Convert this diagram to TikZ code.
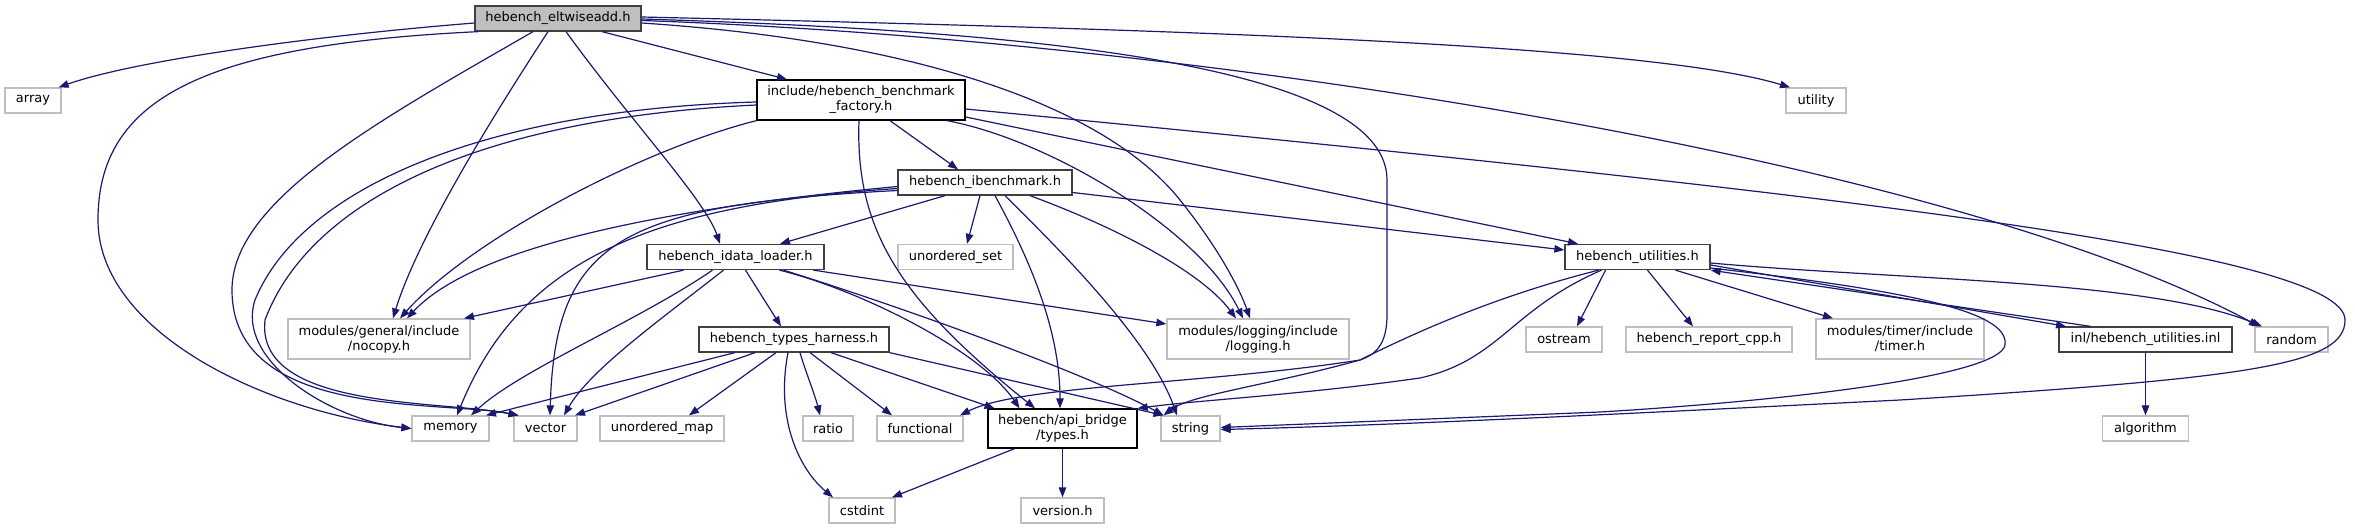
\documentclass[tikz,border=0pt]{standalone}
\usepackage{fontspec}
\setmainfont{DejaVu Sans}
\usetikzlibrary{arrows.meta}
\definecolor{edgeblue}{HTML}{191970}
\definecolor{boxgray}{HTML}{BFBFBF}
\definecolor{boxdark}{HTML}{404040}
\tikzset{
  hfile/.style={draw=boxdark, line width=1.3pt, fill=white, inner sep=0pt,
    minimum height=25pt, align=center, font=\fontsize{13}{15}\selectfont},
  sysfile/.style={hfile, draw=boxgray},
  incl/.style={draw=edgeblue, line width=1.2pt, -{Triangle[length=10pt,width=7.5pt]}},
}

\begin{document}
\begin{tikzpicture}[x=1pt, y=-1pt]
\useasboundingbox (0,0) rectangle (2355,529);

% files of the project
\node[hfile, fill=boxgray, minimum width=166pt] (root) at (558,18.5) {hebench\_eltwiseadd.h};
\node[hfile, draw=black, minimum width=208pt, minimum height=40pt] (factory) at (861,100) {include/hebench\_benchmark\\\_factory.h};
\node[hfile, minimum width=174pt] (ibench) at (985,182.5) {hebench\_ibenchmark.h};
\node[hfile, minimum width=177pt] (idata) at (735.5,257) {hebench\_idata\_loader.h};
\node[hfile, minimum width=145pt] (utils) at (1637.5,257) {hebench\_utilities.h};
\node[hfile, minimum width=190pt] (harness) at (794,339.5) {hebench\_types\_harness.h};
\node[hfile, minimum width=173pt] (inl) at (2145.5,339.5) {inl/hebench\_utilities.inl};
\node[hfile, draw=black, minimum width=149pt, minimum height=39pt] (types) at (1062.5,428.5) {hebench/api\_bridge\\/types.h};

% other headers
\node[sysfile, minimum width=56pt] (array) at (33,100.5) {array};
\node[sysfile, minimum width=60pt] (utility) at (1816,100.5) {utility};
\node[sysfile, minimum width=115pt] (uset) at (955.5,257) {unordered\_set};
\node[sysfile, minimum width=182pt, minimum height=40pt] (nocopy) at (379,339) {modules/general/include\\/nocopy.h};
\node[sysfile, minimum width=182pt, minimum height=40pt] (logging) at (1258,339) {modules/logging/include\\/logging.h};
\node[sysfile, minimum width=76pt] (ostream) at (1564,339.5) {ostream};
\node[sysfile, minimum width=166pt] (report) at (1709,339.5) {hebench\_report\_cpp.h};
\node[sysfile, minimum width=168pt, minimum height=40pt] (timer) at (1900,339) {modules/timer/include\\/timer.h};
\node[sysfile, minimum width=73pt] (random) at (2291.5,339.5) {random};
\node[sysfile, minimum width=77pt] (memory) at (450.5,428.5) {memory};
\node[sysfile, minimum width=63pt] (vector) at (545.5,428.5) {vector};
\node[sysfile, minimum width=124pt] (umap) at (662,428.5) {unordered\_map};
\node[sysfile, minimum width=50pt] (ratio) at (828,428.5) {ratio};
\node[sysfile, minimum width=86pt] (functional) at (920,428.5) {functional};
\node[sysfile, minimum width=59pt] (string) at (1190.5,428.5) {string};
\node[sysfile, minimum width=86pt] (algorithm) at (2145.5,428.5) {algorithm};
\node[sysfile, minimum width=66pt] (cstdint) at (862,510.5) {cstdint};
\node[sysfile, minimum width=83pt] (version) at (1062.5,510.5) {version.h};

% includes of hebench_eltwiseadd.h
\draw[incl] ([yshift=-4.5pt]root.west) .. controls (300,37) and (130,62) .. ([xshift=-3pt]array.north east);
\draw[incl] ([xshift=-80pt]root.south) .. controls (200,45) and (98,100) .. (98,220) .. controls (98,330) and (260,410) .. (memory.west);
\draw[incl] ([xshift=-25pt]root.south) .. controls (380,120) and (232,200) .. (232,290) .. controls (232,420) and (440,400) .. ([xshift=-27pt]vector.north);
\draw[incl] ([xshift=-10pt]root.south) .. controls (510,90) and (420,230) .. ([xshift=14pt]nocopy.north);
\draw[incl] ([xshift=8pt]root.south) .. controls (630,120) and (705,200) .. ([xshift=-15.5pt]idata.north);
\draw[incl] ([xshift=44pt]root.south) -- ([xshift=-74pt]factory.north);
\draw[incl] ([yshift=-4.5pt]root.east) .. controls (900,40) and (1100,100) .. (1180,200) .. controls (1220,250) and (1240,290) .. ([xshift=-8pt]logging.north);
\draw[incl] ([yshift=-0.5pt]root.east) .. controls (1000,30) and (1387,60) .. (1387,180) -- (1387,315) .. controls (1387,345) and (1375,355) .. (1360,360) .. controls (1270,385) and (1190,395) .. ([xshift=-27pt]string.north);
\draw[incl] ([yshift=1.5pt]root.east) .. controls (1200,30) and (1650,45) .. ([xshift=-26pt]utility.north);
\draw[incl] ([yshift=-2pt]root.east) .. controls (1200,40) and (1950,160) .. ([xshift=-32.5pt]random.north);

% include/hebench_benchmark_factory.h
\draw[incl] ([yshift=-2pt]factory.west) .. controls (480,110) and (300,190) .. (255,300) .. controls (235,360) and (330,420) .. (memory.west);
\draw[incl] ([yshift=-5pt]factory.west) .. controls (480,118) and (310,200) .. (265,320) .. controls (255,410) and (440,400) .. ([xshift=-27pt]vector.north);
\draw[incl] (factory.south west) .. controls (640,150) and (470,240) .. ([xshift=21pt]nocopy.north);
\draw[incl] ([xshift=-2pt]factory.south) .. controls (855,230) and (900,300) .. ([xshift=-27.5pt]types.north);
\draw[incl] ([xshift=29pt]factory.south) -- ([xshift=-27pt]ibench.north);
\draw[incl] ([xshift=86pt]factory.south) .. controls (1050,140) and (1200,230) .. ([xshift=-15pt]logging.north);
\draw[incl] ([yshift=-17pt]factory.east) -- ([xshift=-59.5pt]utils.north);
\draw[incl] ([yshift=-9pt]factory.east) .. controls (1800,190) and (2345,250) .. (2345,320) .. controls (2345,365) and (2250,378) .. (1900,400) .. controls (1600,415) and (1400,425) .. ([yshift=-1pt]string.east);

% hebench_ibenchmark.h
\draw[incl] ([yshift=-4pt]ibench.west) .. controls (700,205) and (480,240) .. ([xshift=28pt]nocopy.north);
\draw[incl] ([yshift=-6pt]ibench.west) .. controls (650,205) and (520,260) .. ([xshift=6.5pt]memory.north);
\draw[incl] ([yshift=-8pt]ibench.west) .. controls (620,205) and (555,240) .. ([xshift=4.5pt]vector.north);
\draw[incl] ([xshift=-40pt]ibench.south) -- ([xshift=44.5pt]idata.north);
\draw[incl] ([xshift=-5pt]ibench.south) -- ([xshift=11.5pt]uset.north);
\draw[incl] ([xshift=10pt]ibench.south) .. controls (1030,260) and (1060,330) .. ([xshift=-2.5pt]types.north);
\draw[incl] ([xshift=20pt]ibench.south) .. controls (1060,250) and (1150,340) .. ([xshift=-13.5pt]string.north);
\draw[incl] ([xshift=45pt]ibench.south) .. controls (1110,225) and (1200,270) .. ([xshift=-22pt]logging.north);
\draw[incl] ([yshift=-10pt]ibench.east) -- ([yshift=7pt]utils.west);

% hebench_idata_loader.h
\draw[incl] ([xshift=-52pt]idata.south) -- ([xshift=85pt]nocopy.north);
\draw[incl] ([xshift=-23pt]idata.south) .. controls (640,320) and (520,370) .. ([xshift=20.5pt]memory.north);
\draw[incl] ([xshift=-12pt]idata.south) .. controls (660,320) and (590,370) .. ([xshift=18.5pt]vector.north);
\draw[incl] ([xshift=10pt]idata.south) -- ([xshift=-13pt]harness.north);
\draw[incl] ([xshift=44pt]idata.south) .. controls (860,290) and (980,350) .. ([xshift=-43pt]types.north);
\draw[incl] ([xshift=48pt]idata.south) .. controls (880,300) and (1080,370) .. ([xshift=-27pt]string.north);
\draw[incl] ([xshift=78pt]idata.south) -- ([yshift=15pt]logging.west);

% hebench_types_harness.h
\draw[incl] ([xshift=-59pt]harness.south) -- ([xshift=35.5pt]memory.north);
\draw[incl] ([xshift=-39pt]harness.south) -- ([xshift=29.5pt]vector.north);
\draw[incl] ([xshift=-18pt]harness.south) -- ([xshift=27pt]umap.north);
\draw[incl] ([xshift=-6pt]harness.south) .. controls (775,420) and (800,470) .. ([xshift=-29pt]cstdint.north);
\draw[incl] ([xshift=6pt]harness.south) .. controls (805,370) and (815,395) .. ([xshift=-8pt]ratio.north);
\draw[incl] ([xshift=16pt]harness.south) -- ([xshift=-28pt]functional.north);
\draw[incl] ([xshift=37pt]harness.south) -- ([xshift=-68pt]types.north);
\draw[incl] (harness.south east) -- ([xshift=-27pt]string.north);

% hebench/api_bridge/types.h
\draw[incl] ([xshift=-48pt]types.south) -- ([xshift=30pt]cstdint.north);
\draw[incl] (types.south) -- (version.north);

% hebench_utilities.h
\draw[incl] ([xshift=-39pt]utils.south) .. controls (1500,295) and (1420,330) .. (1360,360) .. controls (1200,385) and (1020,385) .. ([xshift=40pt]functional.north);
\draw[incl] ([xshift=-36pt]utils.south) .. controls (1510,310) and (1500,360) .. (1420,378) .. controls (1300,395) and (1200,400) .. (types.north east);
\draw[incl] ([xshift=-32pt]utils.south) -- ([xshift=13pt]ostream.north);
\draw[incl] ([xshift=10pt]utils.south) -- ([xshift=-16pt]report.north);
\draw[incl] ([xshift=38pt]utils.south) -- ([xshift=-67pt]timer.north);
\draw[incl] ([yshift=-8pt]utils.east) -- ([xshift=-79.5pt]inl.north);
\draw[incl] ([yshift=-6pt]utils.east) .. controls (1900,280) and (2150,280) .. ([xshift=-29.5pt]random.north);
\draw[incl] ([yshift=-11pt]utils.east) .. controls (1900,290) and (2010,310) .. (2005,345) .. controls (2000,375) and (1800,400) .. (1600,412) -- ([yshift=1pt]string.east);

% inl/hebench_utilities.inl
\draw[incl] ([xshift=-55pt]inl.north) -- (utils.south east);
\draw[incl] (inl.south) -- (algorithm.north);
\end{tikzpicture}
\end{document}
